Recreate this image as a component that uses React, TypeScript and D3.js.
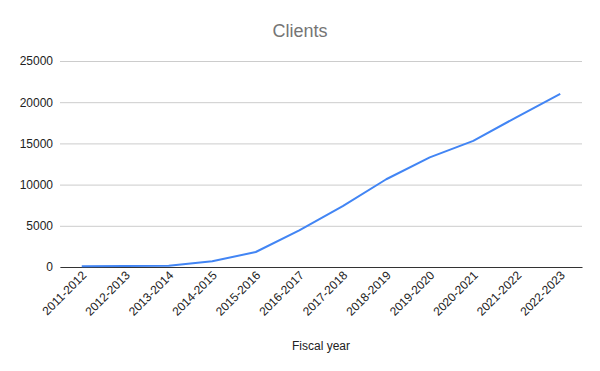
import React, { useRef, useEffect } from 'react';
import * as d3 from 'd3';

const fiscalYears = [
  '2011-2012', '2012-2013', '2013-2014', '2014-2015', '2015-2016', '2016-2017',
  '2017-2018', '2018-2019', '2019-2020', '2020-2021', '2021-2022', '2022-2023',
];
const clients = [80, 120, 160, 690, 1820, 4450, 7380, 10650, 13300, 15300, 18200, 21000];
const yTicks = [0, 5000, 10000, 15000, 20000, 25000];

const FONT = 'Arial, "Liberation Sans", sans-serif';

const App: React.FC = () => {
  const svgRef = useRef<SVGSVGElement | null>(null);

  useEffect(() => {
    if (!svgRef.current) return;
    const width = 600;
    const height = 371;
    const margin = { top: 61, right: 18, bottom: 104, left: 60 };
    const innerWidth = width - margin.left - margin.right;
    const innerHeight = height - margin.top - margin.bottom;
    const svg = d3.select(svgRef.current);
    svg.selectAll('*').remove();
    svg.append('rect').attr('width', width).attr('height', height).attr('fill', '#fff');

    const x = d3.scalePoint<string>().domain(fiscalYears).range([0, innerWidth]).padding(0.5);
    const y = d3.scaleLinear().domain([0, 25000]).range([innerHeight, 0]);

    const g = svg.append('g').attr('transform', `translate(${margin.left},${margin.top})`);

    // gridlines + y labels
    const yAxis = g
      .append('g')
      .call(
        d3
          .axisLeft(y)
          .tickValues(yTicks)
          .tickSize(-innerWidth)
          .tickPadding(7)
          .tickFormat(d => String(d))
      );
    yAxis.select('.domain').remove();
    yAxis.selectAll('line').attr('stroke', '#cccccc');
    yAxis
      .selectAll('text')
      .attr('fill', '#222')
      .style('font-family', FONT)
      .style('font-size', '12px');

    // x axis
    const xAxis = g
      .append('g')
      .attr('transform', `translate(0,${innerHeight})`)
      .call(d3.axisBottom(x).tickSize(0).tickPadding(0));
    xAxis.select('.domain').attr('stroke', '#333').attr('stroke-width', 1);
    xAxis
      .selectAll('text')
      .attr('fill', '#222')
      .style('font-family', FONT)
      .style('font-size', '12px')
      .attr('text-anchor', 'end')
      .attr('dy', null)
      .attr('transform', 'translate(5,9) rotate(-45)');

    const line = d3
      .line<number>()
      .x((_, i) => x(fiscalYears[i])!)
      .y(d => y(d));
    g.append('path')
      .datum(clients)
      .attr('fill', 'none')
      .attr('stroke', '#4285f4')
      .attr('stroke-width', 2)
      .attr('stroke-linejoin', 'round')
      .attr('d', line);

    svg
      .append('text')
      .attr('x', width / 2)
      .attr('y', 37)
      .attr('text-anchor', 'middle')
      .attr('fill', '#757575')
      .style('font-family', FONT)
      .style('font-size', '18px')
      .text('Clients');

    svg
      .append('text')
      .attr('x', margin.left + innerWidth / 2)
      .attr('y', 350)
      .attr('text-anchor', 'middle')
      .attr('fill', '#222')
      .style('font-family', FONT)
      .style('font-size', '12px')
      .text('Fiscal year');
  }, []);

  return (
    <div style={{ margin: -8 }}>
      <svg ref={svgRef} width={600} height={371} style={{ display: 'block' }} />
    </div>
  );
};

export default App;
